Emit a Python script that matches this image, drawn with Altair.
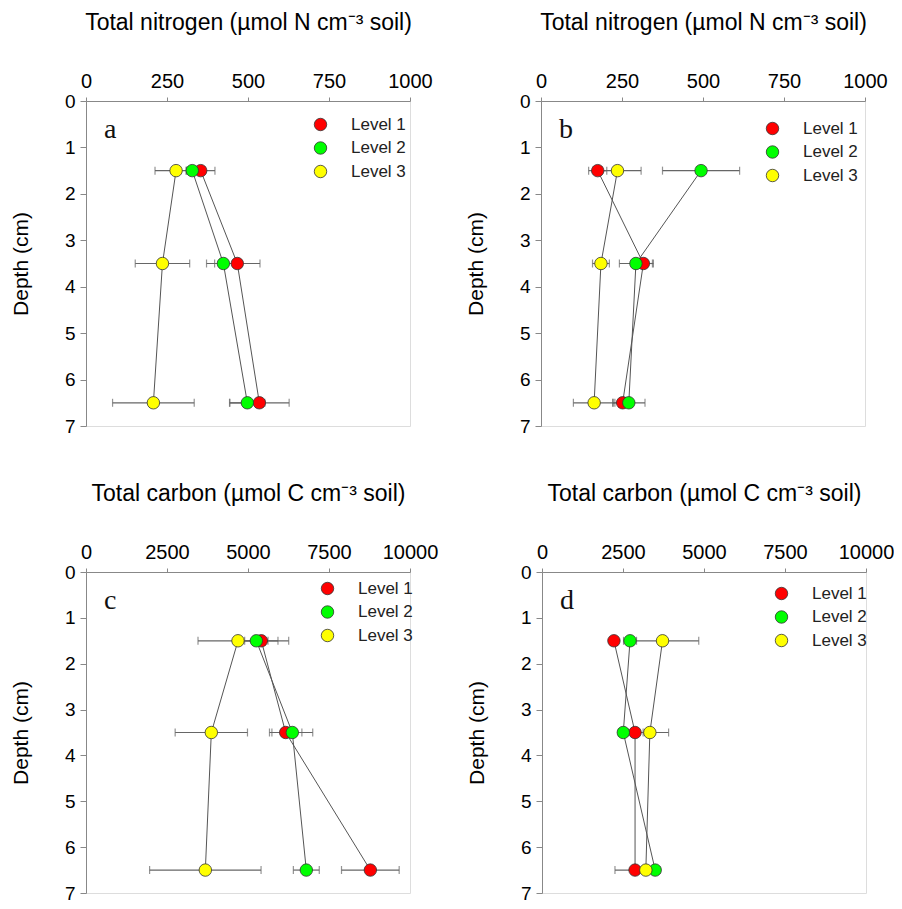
import altair as alt
import pandas as pd

depth = [1.5, 3.5, 6.5]
levels = ["Level 1", "Level 2", "Level 3"]
level_colors = ["#ff0000", "#00ff00", "#ffff00"]
y_ticks = [0, 1, 2, 3, 4, 5, 6, 7]
n_ticks = [0, 250, 500, 750, 1000]
c_ticks = [0, 2500, 5000, 7500, 10000]

# Panel a: total nitrogen (site 1)
a_l1 = [354, 467, 535]
a_l1_err = [44, 70, 92]
a_l2 = [328, 424, 498]
a_l2_err = [19, 52, 54]
a_l3 = [278, 236, 208]
a_l3_err = [65, 84, 126]

# Panel b: total nitrogen (site 2)
b_l1 = [175, 316, 252]
b_l1_err = [28, 31, 29]
b_l2 = [494, 293, 271]
b_l2_err = [119, 51, 50]
b_l3 = [236, 185, 164]
b_l3_err = [73, 26, 64]

# Panel c: total carbon (site 1)
c_l1 = [5411, 6163, 8776]
c_l1_err = [845, 500, 890]
c_l2 = [5257, 6368, 6800]
c_l2_err = [360, 630, 400]
c_l3 = [4691, 3868, 3683]
c_l3_err = [1234, 1116, 1720]

# Panel d: total carbon (site 2)
d_l1 = [2220, 2872, 2872]
d_l1_err = [100, 250, 620]
d_l2 = [2717, 2509, 3494]
d_l2_err = [200, 150, 150]
d_l3 = [3720, 3329, 3205]
d_l3_err = [1118, 578, 200]

title_n = "Total nitrogen (µmol N cm\u207b\u00b3 soil)"
title_c = "Total carbon (µmol C cm\u207b\u00b3 soil)"

FONT = "Liberation Sans"


def build_df(series):
    rows = []
    for lev, (vals, errs) in zip(levels, series):
        for d, v, e in zip(depth, vals, errs):
            rows.append({"level": lev, "depth": d, "value": v, "lo": v - e, "hi": v + e})
    return pd.DataFrame(rows)


def panel(series, letter, title, xmax, xticks, leg_x, leg_y, h):
    df = build_df(series)
    xscale = alt.Scale(domain=[0, xmax], nice=False, zero=True)
    xaxis = alt.Axis(orient="top", values=xticks, title=title, labelFontSize=20,
                     titleFontSize=23, titleFontWeight="normal", tickSize=4, labelPadding=6,
                     titleY=-79, titleBaseline="middle", grid=False, labelFlush=False,
                     format="d")
    yscale = alt.Scale(domain=[0, 7], reverse=True, nice=False, zero=True)
    yaxis = alt.Axis(values=y_ticks, title="Depth (cm)", labelFontSize=19,
                     titleFontSize=21, titleFontWeight="normal", tickSize=6, labelPadding=5,
                     titleX=-65, titleBaseline="middle", grid=False, format="d")

    def X(f):
        return alt.X(f, type="quantitative", scale=xscale, axis=xaxis)

    def Y(f):
        return alt.Y(f, type="quantitative", scale=yscale, axis=yaxis)

    base = alt.Chart(df)
    lines = base.mark_line(color="#555555", strokeWidth=1).encode(
        x=X("value"), y=Y("depth"), detail="level:N", order="depth:Q")
    rules = base.mark_rule(color="#666666", strokeWidth=1.2).encode(
        x=X("lo"), x2="hi:Q", y=Y("depth"))
    cap_lo = base.mark_tick(orient="vertical", size=8, thickness=1.2, color="#666666").encode(
        x=X("lo"), y=Y("depth"))
    cap_hi = base.mark_tick(orient="vertical", size=8, thickness=1.2, color="#666666").encode(
        x=X("hi"), y=Y("depth"))
    points = base.mark_circle(size=155, stroke="#333333", strokeWidth=0.8, opacity=1).encode(
        x=X("value"), y=Y("depth"),
        fill=alt.Fill("level:N", scale=alt.Scale(domain=levels, range=level_colors),
                      legend=alt.Legend(title=None, orient="none", legendX=leg_x, legendY=leg_y,
                                        symbolType="circle", symbolSize=155,
                                        symbolStrokeColor="#333333", symbolStrokeWidth=0.8,
                                        symbolOpacity=1, labelFontSize=17, labelFont=FONT,
                                        labelColor="#222222", labelOffset=22, rowPadding=5.5,
                                        padding=0)),
        order=alt.Order("level:N"))
    txt = alt.Chart(pd.DataFrame({"t": [letter]})).mark_text(
        font="Liberation Serif", fontSize=28, align="left", baseline="alphabetic",
        color="#111111").encode(x=alt.value(18), y=alt.value(37), text="t:N")
    return alt.layer(lines, rules, cap_lo, cap_hi, points, txt).properties(width=324, height=h)


pa = panel([(a_l1, a_l1_err), (a_l2, a_l2_err), (a_l3, a_l3_err)], "a", title_n, 1000, n_ticks, 226, 15, 325)
pb = panel([(b_l1, b_l1_err), (b_l2, b_l2_err), (b_l3, b_l3_err)], "b", title_n, 1000, n_ticks, 223, 19, 325)
pc = panel([(c_l1, c_l1_err), (c_l2, c_l2_err), (c_l3, c_l3_err)], "c", title_c, 10000, c_ticks, 233, 8, 321)
pd_ = panel([(d_l1, d_l1_err), (d_l2, d_l2_err), (d_l3, d_l3_err)], "d", title_c, 10000, c_ticks, 231, 13, 321)

row1 = alt.hconcat(pa, pb, spacing=31).resolve_legend(fill="independent")
row2 = alt.hconcat(pc, pd_, spacing=26).resolve_legend(fill="independent")

chart = alt.vconcat(row1, row2, spacing=44).resolve_legend(fill="independent").properties(
    padding={"left": 1, "top": 2, "right": -1, "bottom": 0}
).configure_view(stroke="#888888", strokeWidth=1).configure_axis(
    domainColor="#888888", tickColor="#888888", labelColor="#111111", titleColor="#111111",
    labelFont=FONT, titleFont=FONT, titleFontWeight="normal"
).configure(background="white")

chart.save("out.html", embed_options={"renderer": "svg", "actions": False})
